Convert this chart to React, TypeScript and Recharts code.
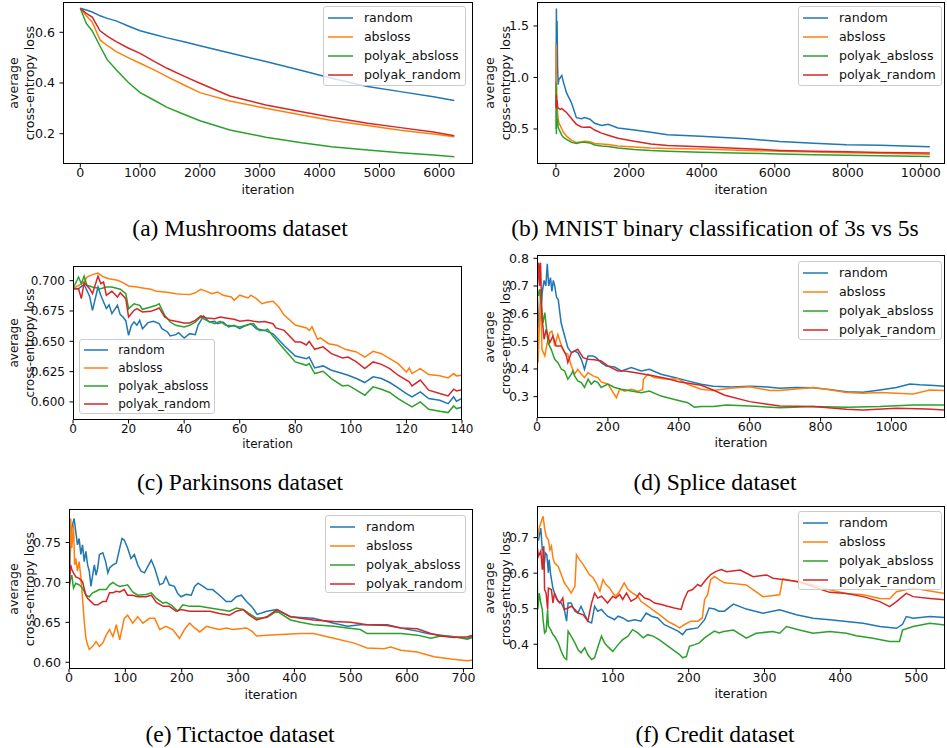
import { LineChart, Line, XAxis, YAxis } from 'recharts';

const seriesNames = ['random', 'absloss', 'polyak_absloss', 'polyak_random'];
const seriesColors = ['#1f77b4', '#ff7f0e', '#2ca02c', '#d62728'];

// (a) Mushrooms - shared iteration grid
const aIter = [0, 100, 200, 330, 450, 600, 800, 1000, 1250, 1450, 1750, 2000, 2500, 3100, 3700, 4200, 4800, 5350, 5900, 6250];
const aRandom = [0.695, 0.688, 0.68, 0.665, 0.655, 0.645, 0.625, 0.606, 0.59, 0.578, 0.562, 0.547, 0.518, 0.485, 0.449, 0.419, 0.386, 0.366, 0.346, 0.331];
const aAbsloss = [0.695, 0.665, 0.64, 0.57, 0.548, 0.524, 0.5, 0.478, 0.45, 0.425, 0.39, 0.362, 0.329, 0.3, 0.274, 0.252, 0.232, 0.214, 0.199, 0.188];
const aPolyakAbsloss = [0.695, 0.635, 0.605, 0.545, 0.492, 0.452, 0.403, 0.362, 0.33, 0.304, 0.275, 0.251, 0.215, 0.186, 0.164, 0.149, 0.136, 0.125, 0.116, 0.109];
const aPolyakRandom = [0.695, 0.675, 0.66, 0.606, 0.585, 0.563, 0.538, 0.517, 0.483, 0.458, 0.425, 0.399, 0.349, 0.313, 0.287, 0.265, 0.241, 0.224, 0.207, 0.192];

// (b) MNIST 3s vs 5s - shared iteration grid
const bIter = [0, 5, 12, 20, 30, 45, 60, 80, 120, 160, 200, 290, 430, 560, 700, 790, 930, 1060, 1250, 1430, 1700, 2150, 2600, 3060, 3970, 5230, 6140, 7060, 7970, 8890, 10250];
const bRandom = [0.72, 1.2, 1.67, 1.3, 1.55, 1.1, 0.93, 0.98, 1.0, 1.02, 0.96, 0.85, 0.75, 0.61, 0.6, 0.61, 0.595, 0.555, 0.535, 0.545, 0.51, 0.49, 0.468, 0.445, 0.43, 0.405, 0.378, 0.362, 0.346, 0.342, 0.328];
const bAbsloss = [0.75, 1.32, 0.85, 0.92, 0.7, 0.65, 0.6, 0.56, 0.53, 0.5, 0.47, 0.43, 0.39, 0.37, 0.375, 0.38, 0.375, 0.36, 0.355, 0.35, 0.335, 0.325, 0.315, 0.31, 0.305, 0.292, 0.283, 0.277, 0.27, 0.265, 0.255];
const bPolyakAbsloss = [0.5, 0.95, 0.45, 0.7, 0.55, 0.6, 0.52, 0.5, 0.47, 0.44, 0.42, 0.4, 0.37, 0.36, 0.37, 0.37, 0.365, 0.345, 0.335, 0.33, 0.315, 0.3, 0.29, 0.285, 0.275, 0.265, 0.257, 0.25, 0.245, 0.24, 0.232];
const bPolyakRandom = [0.7, 0.75, 0.83, 0.74, 0.78, 0.72, 0.7, 0.7, 0.69, 0.7, 0.685, 0.66, 0.6, 0.545, 0.52, 0.516, 0.52, 0.49, 0.46, 0.44, 0.41, 0.38, 0.355, 0.34, 0.328, 0.308, 0.292, 0.283, 0.278, 0.272, 0.268];

// (c) Parkinsons - [iteration, loss]
const cRandom = [[0, 0.6934], [2, 0.6934], [4, 0.697], [6, 0.687], [7, 0.6755], [8, 0.685], [9, 0.6948], [10, 0.688], [12, 0.677], [13, 0.68], [14, 0.6728], [16, 0.6797], [17, 0.672], [18, 0.67], [19, 0.667], [20, 0.655], [21, 0.663], [22, 0.666], [23, 0.6632], [24, 0.6673], [25, 0.6604], [27, 0.6654], [29, 0.6665], [31, 0.6646], [32, 0.6604], [34, 0.6577], [35, 0.6544], [37, 0.6555], [38, 0.6571], [40, 0.6527], [42, 0.6563], [44, 0.6555], [45, 0.6632], [47, 0.6709], [49, 0.6659], [51, 0.6665], [52, 0.6646], [54, 0.6659], [56, 0.6618], [58, 0.6632], [60, 0.6604], [61, 0.6618], [64, 0.6646], [66, 0.6604], [69, 0.659], [72, 0.6562], [76, 0.6466], [80, 0.6379], [84, 0.6357], [85, 0.637], [87, 0.628], [90, 0.6297], [93, 0.6261], [97, 0.6234], [99, 0.622], [102, 0.6193], [105, 0.616], [108, 0.6207], [111, 0.6193], [114, 0.616], [117, 0.6116], [120, 0.6069], [122, 0.6042], [125, 0.6083], [128, 0.6028], [132, 0.6014], [135, 0.5986], [137, 0.6042], [138, 0.6006], [140, 0.6028]];
const cAbsloss = [[0, 0.6934], [2, 0.696], [4, 0.699], [5, 0.703], [7, 0.705], [9, 0.7063], [11, 0.703], [13, 0.7016], [16, 0.7003], [18, 0.6984], [20, 0.6956], [23, 0.6948], [25, 0.694], [28, 0.6929], [30, 0.6912], [33, 0.6907], [35, 0.69], [37, 0.6893], [40, 0.6887], [42, 0.6885], [44, 0.69], [46, 0.6929], [48, 0.6912], [50, 0.6893], [52, 0.6907], [54, 0.688], [57, 0.6865], [58, 0.6838], [60, 0.688], [63, 0.6857], [64, 0.688], [66, 0.6852], [68, 0.681], [70, 0.6824], [72, 0.683], [74, 0.6785], [76, 0.6716], [80, 0.6634], [84, 0.661], [85, 0.659], [86, 0.662], [88, 0.6517], [89, 0.6528], [92, 0.648], [95, 0.6467], [98, 0.6434], [102, 0.6412], [105, 0.637], [108, 0.6417], [111, 0.6398], [114, 0.6357], [117, 0.6316], [120, 0.6247], [121, 0.628], [122, 0.6234], [125, 0.6275], [128, 0.6226], [132, 0.6215], [135, 0.6198], [137, 0.6234], [138, 0.6215], [140, 0.622]];
const cPolyakAbsloss = [[0, 0.6934], [2, 0.703], [3, 0.6975], [4, 0.7038], [5, 0.6962], [7, 0.6948], [10, 0.6934], [12, 0.6948], [14, 0.6948], [17, 0.6929], [19, 0.6893], [20, 0.6769], [22, 0.681], [24, 0.6797], [25, 0.6764], [28, 0.6783], [30, 0.6797], [31, 0.681], [33, 0.6714], [35, 0.6659], [37, 0.6632], [40, 0.6618], [42, 0.6632], [44, 0.6659], [46, 0.67], [48, 0.6673], [51, 0.6646], [53, 0.6665], [55, 0.6632], [58, 0.6626], [60, 0.6618], [63, 0.6637], [65, 0.6646], [67, 0.659], [69, 0.659], [70, 0.66], [72, 0.6542], [76, 0.6434], [80, 0.633], [84, 0.6302], [85, 0.6316], [87, 0.6234], [90, 0.6253], [93, 0.6193], [97, 0.6132], [99, 0.6138], [102, 0.6097], [105, 0.6055], [108, 0.6124], [111, 0.6105], [114, 0.6078], [117, 0.6028], [120, 0.5986], [122, 0.5959], [125, 0.6], [128, 0.594], [132, 0.5923], [135, 0.5912], [137, 0.5967], [138, 0.5945], [140, 0.5956]];
const cPolyakRandom = [[0, 0.6934], [2, 0.6934], [3, 0.6852], [4, 0.6984], [6, 0.6934], [7, 0.6893], [9, 0.7038], [10, 0.6975], [11, 0.6989], [12, 0.688], [14, 0.6912], [16, 0.6865], [17, 0.69], [19, 0.6852], [20, 0.67], [22, 0.6755], [23, 0.6769], [25, 0.6742], [28, 0.6747], [30, 0.6764], [31, 0.6775], [33, 0.67], [35, 0.6673], [37, 0.6665], [40, 0.6651], [42, 0.6651], [44, 0.6673], [46, 0.6709], [48, 0.6692], [51, 0.6687], [53, 0.67], [55, 0.6692], [58, 0.6681], [60, 0.6665], [63, 0.6673], [65, 0.6665], [67, 0.6659], [69, 0.6664], [72, 0.6645], [73, 0.661], [76, 0.659], [80, 0.6494], [82, 0.6494], [84, 0.647], [85, 0.65], [87, 0.6434], [90, 0.6454], [93, 0.6398], [97, 0.6363], [99, 0.637], [102, 0.633], [105, 0.6275], [108, 0.633], [111, 0.631], [114, 0.6275], [117, 0.622], [121, 0.6165], [122, 0.6132], [125, 0.618], [128, 0.6097], [132, 0.6069], [135, 0.605], [137, 0.6105], [138, 0.6091], [140, 0.61]];

// (d) Splice - [iteration, loss]
const dRandom = [[0, 0.693], [5, 0.55], [10, 0.6], [15, 0.68], [20, 0.72], [25, 0.7], [29, 0.78], [33, 0.7], [38, 0.73], [42, 0.68], [46, 0.72], [50, 0.7], [55, 0.66], [60, 0.65], [68, 0.567], [78, 0.519], [87, 0.477], [97, 0.459], [106, 0.465], [115, 0.459], [125, 0.435], [134, 0.399], [144, 0.447], [158, 0.447], [167, 0.441], [181, 0.423], [195, 0.411], [219, 0.407], [238, 0.393], [266, 0.405], [294, 0.393], [317, 0.399], [350, 0.381], [388, 0.369], [425, 0.357], [463, 0.345], [497, 0.338], [550, 0.335], [600, 0.338], [650, 0.335], [685, 0.33], [730, 0.333], [779, 0.332], [830, 0.325], [873, 0.318], [920, 0.316], [967, 0.324], [1014, 0.333], [1052, 0.346], [1080, 0.343], [1120, 0.34], [1150, 0.338]];
const dAbsloss = [[0, 0.7], [3, 0.423], [7, 0.567], [10, 0.688], [14, 0.471], [22, 0.447], [29, 0.495], [36, 0.531], [42, 0.537], [50, 0.483], [59, 0.525], [69, 0.483], [78, 0.459], [87, 0.453], [97, 0.411], [106, 0.381], [115, 0.399], [125, 0.381], [134, 0.369], [144, 0.387], [158, 0.375], [172, 0.369], [181, 0.353], [200, 0.345], [224, 0.296], [233, 0.327], [247, 0.32], [266, 0.327], [285, 0.32], [298, 0.325], [300, 0.363], [313, 0.381], [331, 0.369], [369, 0.363], [397, 0.365], [425, 0.345], [463, 0.327], [497, 0.322], [544, 0.33], [600, 0.336], [657, 0.322], [685, 0.322], [730, 0.328], [779, 0.333], [826, 0.325], [873, 0.315], [920, 0.312], [967, 0.315], [1014, 0.312], [1061, 0.31], [1108, 0.324], [1150, 0.322]];
const dPolyakAbsloss = [[0, 0.7], [4, 0.664], [8, 0.688], [12, 0.628], [17, 0.567], [22, 0.604], [31, 0.495], [40, 0.471], [50, 0.435], [59, 0.423], [69, 0.399], [78, 0.393], [87, 0.363], [97, 0.381], [101, 0.393], [106, 0.375], [115, 0.357], [125, 0.351], [134, 0.333], [144, 0.363], [153, 0.345], [162, 0.357], [172, 0.351], [181, 0.333], [200, 0.345], [219, 0.333], [238, 0.327], [266, 0.32], [294, 0.314], [317, 0.32], [350, 0.302], [388, 0.29], [425, 0.278], [444, 0.262], [463, 0.264], [497, 0.264], [534, 0.27], [600, 0.266], [685, 0.26], [779, 0.264], [873, 0.262], [967, 0.264], [1061, 0.27], [1150, 0.27]];
const dPolyakRandom = [[0, 0.69], [5, 0.784], [7, 0.7], [10, 0.784], [14, 0.591], [20, 0.507], [26, 0.543], [36, 0.495], [45, 0.519], [54, 0.483], [69, 0.483], [83, 0.447], [87, 0.423], [97, 0.459], [106, 0.465], [115, 0.471], [130, 0.441], [144, 0.435], [162, 0.433], [181, 0.429], [200, 0.411], [228, 0.393], [247, 0.393], [275, 0.387], [303, 0.381], [331, 0.375], [369, 0.365], [400, 0.354], [463, 0.341], [497, 0.324], [530, 0.305], [600, 0.282], [685, 0.266], [779, 0.264], [873, 0.254], [920, 0.252], [1014, 0.258], [1100, 0.255], [1150, 0.252]];

// (e) Tictactoe - [iteration, loss]
const eRandom = [[0, 0.693], [2, 0.7345], [5, 0.768], [9, 0.78], [12, 0.764], [15, 0.747], [18, 0.755], [21, 0.735], [24, 0.747], [27, 0.726], [30, 0.739], [33, 0.722], [36, 0.714], [39, 0.695], [42, 0.709], [45, 0.722], [48, 0.709], [51, 0.718], [54, 0.735], [60, 0.737], [65, 0.726], [69, 0.712], [72, 0.718], [78, 0.722], [84, 0.724], [90, 0.743], [94, 0.755], [98, 0.753], [104, 0.743], [110, 0.73], [116, 0.735], [122, 0.722], [128, 0.714], [134, 0.712], [140, 0.72], [146, 0.728], [152, 0.718], [161, 0.697], [167, 0.699], [172, 0.707], [178, 0.697], [187, 0.695], [193, 0.686], [199, 0.682], [208, 0.685], [217, 0.684], [223, 0.695], [229, 0.699], [238, 0.695], [246, 0.691], [255, 0.691], [267, 0.684], [279, 0.676], [288, 0.676], [297, 0.682], [306, 0.684], [315, 0.676], [324, 0.67], [334, 0.66], [351, 0.664], [369, 0.666], [393, 0.657], [411, 0.656], [434, 0.655], [470, 0.649], [494, 0.645], [517, 0.647], [565, 0.647], [589, 0.643], [618, 0.639], [636, 0.636], [660, 0.634], [683, 0.632], [707, 0.63], [717, 0.633]];
const eAbsloss = [[0, 0.693], [3, 0.78], [5, 0.743], [8, 0.772], [10, 0.722], [12, 0.73], [15, 0.714], [18, 0.726], [21, 0.707], [24, 0.68], [27, 0.651], [30, 0.63], [33, 0.622], [36, 0.616], [42, 0.62], [48, 0.626], [54, 0.62], [60, 0.624], [66, 0.634], [72, 0.641], [78, 0.632], [84, 0.647], [90, 0.628], [98, 0.655], [104, 0.659], [113, 0.649], [122, 0.657], [131, 0.649], [143, 0.655], [152, 0.655], [161, 0.641], [172, 0.645], [184, 0.641], [196, 0.63], [205, 0.641], [214, 0.649], [223, 0.643], [232, 0.638], [244, 0.645], [255, 0.643], [267, 0.641], [279, 0.643], [291, 0.641], [303, 0.642], [315, 0.643], [326, 0.638], [333, 0.633], [351, 0.634], [411, 0.636], [434, 0.636], [470, 0.63], [506, 0.624], [529, 0.618], [559, 0.617], [571, 0.619], [589, 0.615], [618, 0.613], [648, 0.607], [678, 0.604], [707, 0.602], [717, 0.603]];
const ePolyakAbsloss = [[0, 0.693], [3, 0.705], [5, 0.709], [8, 0.693], [12, 0.699], [18, 0.697], [24, 0.693], [30, 0.684], [36, 0.682], [42, 0.687], [48, 0.689], [54, 0.691], [60, 0.691], [66, 0.691], [72, 0.697], [78, 0.7], [84, 0.697], [90, 0.695], [98, 0.696], [104, 0.697], [113, 0.688], [122, 0.684], [137, 0.685], [146, 0.687], [155, 0.68], [167, 0.674], [172, 0.675], [181, 0.672], [193, 0.664], [202, 0.672], [214, 0.67], [232, 0.67], [250, 0.668], [267, 0.666], [285, 0.664], [297, 0.668], [309, 0.666], [320, 0.661], [333, 0.655], [351, 0.656], [369, 0.664], [393, 0.653], [411, 0.65], [434, 0.647], [470, 0.645], [494, 0.643], [517, 0.641], [529, 0.636], [565, 0.636], [589, 0.636], [618, 0.634], [642, 0.63], [660, 0.633], [683, 0.632], [707, 0.629], [717, 0.631]];
const ePolyakRandom = [[0, 0.693], [3, 0.722], [5, 0.716], [8, 0.712], [12, 0.707], [18, 0.705], [24, 0.701], [30, 0.684], [33, 0.68], [39, 0.676], [45, 0.672], [51, 0.672], [60, 0.676], [66, 0.676], [72, 0.687], [78, 0.687], [84, 0.689], [90, 0.688], [98, 0.691], [104, 0.684], [113, 0.684], [122, 0.682], [137, 0.682], [146, 0.684], [155, 0.675], [167, 0.67], [178, 0.67], [190, 0.664], [199, 0.666], [214, 0.664], [232, 0.664], [250, 0.664], [267, 0.661], [285, 0.659], [297, 0.664], [309, 0.666], [320, 0.659], [333, 0.653], [351, 0.657], [369, 0.666], [393, 0.657], [411, 0.655], [434, 0.653], [470, 0.651], [500, 0.65], [529, 0.647], [565, 0.646], [589, 0.643], [618, 0.642], [642, 0.636], [660, 0.633], [683, 0.631], [707, 0.632], [717, 0.634]];

// (f) Credit - [iteration, loss]
const fRandom = [[0, 0.69], [2, 0.694], [5, 0.727], [7, 0.666], [8, 0.662], [9, 0.61], [11, 0.657], [13, 0.652], [15, 0.601], [16, 0.638], [18, 0.596], [21, 0.558], [23, 0.544], [28, 0.521], [32, 0.516], [36, 0.498], [39, 0.465], [41, 0.516], [45, 0.516], [50, 0.493], [54, 0.488], [58, 0.507], [63, 0.483], [67, 0.465], [72, 0.46], [76, 0.507], [80, 0.493], [85, 0.498], [89, 0.488], [93, 0.479], [98, 0.474], [102, 0.469], [107, 0.479], [113, 0.474], [120, 0.465], [129, 0.469], [137, 0.465], [144, 0.488], [151, 0.479], [159, 0.474], [168, 0.455], [177, 0.446], [186, 0.437], [192, 0.427], [197, 0.441], [203, 0.443], [212, 0.446], [221, 0.469], [227, 0.502], [234, 0.499], [240, 0.493], [247, 0.493], [259, 0.513], [276, 0.499], [298, 0.487], [320, 0.497], [342, 0.483], [364, 0.473], [386, 0.469], [408, 0.464], [430, 0.459], [452, 0.45], [474, 0.445], [482, 0.456], [487, 0.478], [496, 0.473], [518, 0.478], [538, 0.475]];
const fAbsloss = [[0, 0.685], [2, 0.722], [5, 0.741], [8, 0.76], [10, 0.727], [12, 0.704], [15, 0.694], [17, 0.666], [19, 0.676], [21, 0.643], [23, 0.629], [28, 0.619], [32, 0.596], [36, 0.573], [41, 0.558], [45, 0.544], [50, 0.563], [52, 0.652], [56, 0.638], [61, 0.624], [65, 0.61], [69, 0.596], [74, 0.587], [78, 0.573], [83, 0.549], [87, 0.582], [91, 0.568], [96, 0.558], [100, 0.544], [104, 0.535], [109, 0.549], [115, 0.573], [120, 0.554], [126, 0.544], [133, 0.535], [137, 0.521], [146, 0.507], [155, 0.493], [164, 0.479], [172, 0.465], [181, 0.455], [188, 0.446], [194, 0.455], [203, 0.465], [212, 0.465], [218, 0.474], [221, 0.526], [225, 0.54], [229, 0.582], [234, 0.591], [240, 0.582], [247, 0.573], [254, 0.572], [276, 0.567], [298, 0.534], [320, 0.539], [324, 0.584], [342, 0.576], [364, 0.567], [386, 0.553], [408, 0.543], [430, 0.539], [452, 0.529], [465, 0.528], [474, 0.548], [496, 0.558], [518, 0.55], [538, 0.543]];
const fPolyakAbsloss = [[0, 0.643], [1, 0.498], [3, 0.544], [5, 0.516], [7, 0.498], [8, 0.469], [10, 0.432], [12, 0.437], [14, 0.498], [15, 0.451], [18, 0.441], [21, 0.427], [23, 0.423], [28, 0.404], [32, 0.38], [36, 0.362], [39, 0.357], [41, 0.437], [45, 0.423], [50, 0.404], [54, 0.385], [58, 0.376], [63, 0.39], [67, 0.371], [72, 0.357], [76, 0.362], [80, 0.39], [85, 0.423], [89, 0.404], [93, 0.394], [100, 0.38], [107, 0.399], [113, 0.413], [120, 0.423], [126, 0.441], [133, 0.432], [140, 0.418], [146, 0.427], [153, 0.423], [161, 0.413], [170, 0.399], [179, 0.385], [188, 0.371], [192, 0.362], [197, 0.366], [201, 0.394], [208, 0.399], [214, 0.404], [221, 0.418], [227, 0.427], [234, 0.437], [240, 0.432], [246, 0.436], [259, 0.44], [276, 0.417], [289, 0.431], [311, 0.436], [320, 0.431], [329, 0.45], [346, 0.44], [364, 0.431], [386, 0.436], [408, 0.431], [421, 0.424], [443, 0.417], [465, 0.408], [478, 0.408], [482, 0.44], [496, 0.45], [518, 0.459], [538, 0.454]];
const fPolyakRandom = [[0, 0.676], [2, 0.648], [5, 0.662], [7, 0.61], [9, 0.676], [10, 0.554], [12, 0.544], [14, 0.498], [15, 0.558], [19, 0.554], [21, 0.516], [23, 0.544], [26, 0.526], [30, 0.516], [34, 0.53], [36, 0.498], [41, 0.502], [45, 0.507], [50, 0.498], [54, 0.488], [61, 0.483], [67, 0.465], [72, 0.516], [76, 0.544], [80, 0.53], [85, 0.535], [89, 0.526], [93, 0.516], [100, 0.535], [104, 0.53], [109, 0.54], [113, 0.526], [118, 0.544], [124, 0.521], [131, 0.53], [135, 0.544], [142, 0.53], [148, 0.526], [155, 0.516], [164, 0.512], [172, 0.507], [181, 0.502], [190, 0.498], [194, 0.526], [199, 0.549], [205, 0.554], [212, 0.568], [216, 0.563], [223, 0.582], [229, 0.596], [236, 0.605], [243, 0.61], [250, 0.604], [268, 0.609], [285, 0.59], [303, 0.595], [311, 0.586], [329, 0.581], [346, 0.576], [364, 0.562], [386, 0.546], [408, 0.543], [430, 0.534], [452, 0.52], [465, 0.506], [474, 0.52], [487, 0.543], [496, 0.534], [518, 0.529], [538, 0.525]];

type Row = { x: number; y: number };
const zip = (xs: number[], ys: number[]): Row[] => xs.map((x, i) => ({ x, y: ys[i] }));
const rows = (pts: number[][]): Row[] => pts.map(([x, y]) => ({ x, y }));

const panels = [
  {
    box: [63, 2, 473, 164], xDomain: [-289, 6563], yDomain: [0.0805, 0.7195],
    xTicks: [0, 1000, 2000, 3000, 4000, 5000, 6000], yTicks: [0.2, 0.4, 0.6], digits: 1,
    series: [zip(aIter, aRandom), zip(aIter, aAbsloss), zip(aIter, aPolyakAbsloss), zip(aIter, aPolyakRandom)],
    legend: [323, 6, 143, 80], font: 12.6, caption: '(a) Mushrooms dataset', capX: 240, capY: 229, xlab: 26,
  },
  {
    box: [537, 2, 945, 164], xDomain: [-520, 10666], yDomain: [0.16, 1.733],
    xTicks: [0, 2000, 4000, 6000, 8000, 10000], yTicks: [0.5, 1.0, 1.5], digits: 1,
    series: [zip(bIter, bRandom), zip(bIter, bAbsloss), zip(bIter, bPolyakAbsloss), zip(bIter, bPolyakRandom)],
    legend: [798, 6, 144, 80], font: 12.6, caption: '(b) MNIST binary classification of 3s vs 5s', capX: 715, capY: 229, xlab: 26,
  },
  {
    box: [73, 266, 462, 420], xDomain: [0, 140], yDomain: [0.5851, 0.7121],
    xTicks: [0, 20, 40, 60, 80, 100, 120, 140], yTicks: [0.6, 0.625, 0.65, 0.675, 0.7], digits: 3,
    series: [rows(cRandom), rows(cAbsloss), rows(cPolyakAbsloss), rows(cPolyakRandom)],
    legend: [79, 339, 136, 75], font: 12, caption: '(c) Parkinsons dataset', capX: 240, capY: 483, xlab: 23.5,
  },
  {
    box: [537, 255, 945, 418], xDomain: [0, 1151], yDomain: [0.2228, 0.812],
    xTicks: [0, 200, 400, 600, 800, 1000], yTicks: [0.3, 0.4, 0.5, 0.6, 0.7, 0.8], digits: 1,
    series: [rows(dRandom), rows(dAbsloss), rows(dPolyakAbsloss), rows(dPolyakRandom)],
    legend: [798, 261, 144, 79], font: 12.6, caption: '(d) Splice dataset', capX: 715, capY: 483, xlab: 24.7,
  },
  {
    box: [69, 509, 473, 669], xDomain: [0, 717], yDomain: [0.5916, 0.7919],
    xTicks: [0, 100, 200, 300, 400, 500, 600, 700], yTicks: [0.6, 0.65, 0.7, 0.75], digits: 2,
    series: [rows(eRandom), rows(eAbsloss), rows(ePolyakAbsloss), rows(ePolyakRandom)],
    legend: [325, 515, 141, 78], font: 12.6, caption: '(e) Tictactoe dataset', capX: 240, capY: 735, xlab: 26,
  },
  {
    box: [537, 506, 945, 669], xDomain: [0, 538], yDomain: [0.3304, 0.789],
    xTicks: [100, 200, 300, 400, 500], yTicks: [0.4, 0.5, 0.6, 0.7], digits: 1,
    series: [rows(fRandom), rows(fAbsloss), rows(fPolyakAbsloss), rows(fPolyakRandom)],
    legend: [798, 511, 144, 79], font: 12.6, caption: '(f) Credit dataset', capX: 715, capY: 735, xlab: 25.3,
  },
];

const sans = '"DejaVu Sans", sans-serif';

function Panel({ p }: { p: (typeof panels)[number] }) {
  const [l, t, r, b] = p.box;
  const leftCol = l < 300;
  const padL = 60;
  const padT = 10;
  const padR = leftCol ? 24 : 6;
  const padB = 40;
  const yAxisW = 40;
  const w = r - l + padL + padR;
  const h = b - t + padT + padB;
  const tickStyle = { fontSize: p.font, fill: '#111', fontFamily: sans };
  const labelX = leftCol ? 22 : 498;
  const sampleW = p.font * 2;
  return (
    <>
      <div style={{ position: 'absolute', left: l - padL, top: t - padT }}>
        <LineChart width={w} height={h} margin={{ top: padT, right: padR, left: padL - yAxisW, bottom: 0 }}>
          <XAxis
            type="number"
            dataKey="x"
            domain={p.xDomain}
            ticks={p.xTicks}
            interval={0}
            allowDataOverflow
            height={padB}
            axisLine={false}
            tickLine={{ stroke: '#000' }}
            tickSize={3.5}
            tickMargin={1}
            tick={tickStyle}
          />
          <YAxis
            type="number"
            domain={p.yDomain}
            ticks={p.yTicks}
            interval={0}
            allowDataOverflow
            width={yAxisW}
            axisLine={false}
            tickLine={{ stroke: '#000' }}
            tickSize={3.5}
            tickMargin={4.5}
            tick={tickStyle}
            tickFormatter={(v: number) => v.toFixed(p.digits)}
          />
          {p.series.map((data, i) => (
            <Line
              key={seriesNames[i]}
              data={data}
              dataKey="y"
              name={seriesNames[i]}
              type="linear"
              stroke={seriesColors[i]}
              strokeWidth={1.5}
              dot={false}
              isAnimationActive={false}
            />
          ))}
        </LineChart>
        <div
          style={{
            position: 'absolute', left: padL, top: padT, width: r - l, height: b - t,
            border: '1px solid #000', boxSizing: 'border-box', pointerEvents: 'none',
          }}
        />
      </div>
      {/* legend */}
      <div
        style={{
          position: 'absolute', left: p.legend[0], top: p.legend[1], width: p.legend[2], height: p.legend[3],
          border: '1px solid #ccc', borderRadius: 3, background: 'rgba(255,255,255,0.8)', boxSizing: 'border-box',
          fontFamily: sans, fontSize: p.font, color: '#111',
        }}
      >
        {seriesNames.map((n, i) => (
          <div
            key={n}
            style={{
              position: 'absolute', left: 4, top: p.font * 0.87 + i * p.font * 1.5 - 9, height: 18,
              display: 'flex', alignItems: 'center', whiteSpace: 'nowrap',
            }}
          >
            <svg width={sampleW} height={6} style={{ display: 'block' }}>
              <line x1={0} y1={3} x2={sampleW} y2={3} stroke={seriesColors[i]} strokeWidth={1.5} />
            </svg>
            <span style={{ marginLeft: p.font * 0.85, lineHeight: '18px' }}>{n}</span>
          </div>
        ))}
      </div>
      {/* axis labels */}
      <div
        style={{
          position: 'absolute', left: (l + r) / 2, top: b + p.xlab, transform: 'translate(-50%, -50%)',
          fontFamily: sans, fontSize: p.font, color: '#111', lineHeight: 1, whiteSpace: 'nowrap',
        }}
      >
        iteration
      </div>
      <div
        style={{
          position: 'absolute', left: labelX, top: (t + b) / 2, transform: 'translate(-50%, -50%) rotate(-90deg)',
          fontFamily: sans, fontSize: p.font, color: '#111', lineHeight: '16px', textAlign: 'center', whiteSpace: 'nowrap',
        }}
      >
        average
        <br />
        cross-entropy loss
      </div>
      <div
        style={{
          position: 'absolute', left: p.capX - 300, width: 600, top: p.capY - 12, textAlign: 'center',
          fontFamily: '"Liberation Serif", "Times New Roman", serif', fontSize: 23.5, lineHeight: 1, color: '#000',
        }}
      >
        {p.caption}
      </div>
    </>
  );
}

export default function App() {
  return (
    <div style={{ position: 'absolute', left: 0, top: 0, width: 947, height: 748, overflow: 'hidden', background: '#fff' }}>
      {panels.map((p) => (
        <Panel key={p.caption} p={p} />
      ))}
    </div>
  );
}
